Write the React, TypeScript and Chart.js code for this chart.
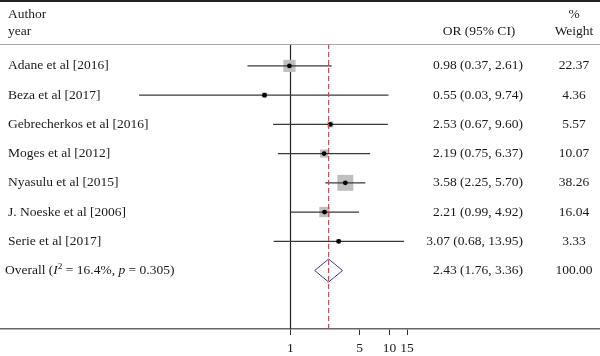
import React, { useEffect, useRef } from "react";
import { Chart, registerables } from "chart.js";

Chart.register(...registerables);

const studies = [
  "Adane et al [2016]",
  "Beza et al [2017]",
  "Gebrecherkos et al [2016]",
  "Moges et al [2012]",
  "Nyasulu et al [2015]",
  "J. Noeske et al [2006]",
  "Serie et al [2017]",
];
const orValues = [0.98, 0.55, 2.53, 2.19, 3.58, 2.21, 3.07];
const lowerCI = [0.37, 0.03, 0.67, 0.75, 2.25, 0.99, 0.68];
const upperCI = [2.61, 9.74, 9.6, 6.37, 5.7, 4.92, 13.95];
const weights = [22.37, 4.36, 5.57, 10.07, 38.26, 16.04, 3.33];

const overallOR = 2.43;
const overallLower = 1.76;
const overallUpper = 3.36;
const overallWeight = 100.0;
const overallLabelParts = [
  { t: "Overall (", italic: false, sup: false },
  { t: "I", italic: true, sup: false },
  { t: "2", italic: false, sup: true },
  { t: " = 16.4%, ", italic: false, sup: false },
  { t: "p", italic: true, sup: false },
  { t: " = 0.305)", italic: false, sup: false },
];
const xTicks = [1, 5, 10, 15];

const FONT = "Liberation Serif";
const FS = 13.5;

const fmt = (v: number) => v.toFixed(2);

export default function App() {
  const ref = useRef<HTMLCanvasElement | null>(null);

  useEffect(() => {
    if (!ref.current) return;
    document.body.style.margin = "0";
    const nStudy = studies.length;

    const ciSets = studies.map((s, i) => ({
      type: "line" as const,
      label: s,
      data: [
        { x: lowerCI[i], y: i },
        { x: upperCI[i], y: i },
      ],
      borderColor: "#3a3a3a",
      borderWidth: 1.2,
      pointRadius: 0,
      showLine: true,
      order: 1,
    }));

    const tablePlugin = {
      id: "forestTable",
      beforeDatasetsDraw(chart: any) {
        const { ctx, chartArea, scales } = chart;
        const xs = scales.x;
        ctx.save();
        ctx.strokeStyle = "#222";
        ctx.lineWidth = 1.2;
        ctx.beginPath();
        const x1 = Math.round(xs.getPixelForValue(1)) + 0.5;
        ctx.moveTo(x1, chartArea.top);
        ctx.lineTo(x1, chartArea.bottom);
        ctx.stroke();
        ctx.restore();
      },
      afterDatasetsDraw(chart: any) {
        const { ctx, chartArea, scales, width } = chart;
        const xs = scales.x;
        const ys = scales.y;
        ctx.save();
        const yo = ys.getPixelForValue(nStudy);
        const h = 11.5;
        ctx.strokeStyle = "#35359a";
        ctx.lineWidth = 1;
        ctx.beginPath();
        ctx.moveTo(xs.getPixelForValue(overallLower), yo);
        ctx.lineTo(xs.getPixelForValue(overallOR), yo - h);
        ctx.lineTo(xs.getPixelForValue(overallUpper), yo);
        ctx.lineTo(xs.getPixelForValue(overallOR), yo + h);
        ctx.closePath();
        ctx.stroke();
        const xo = xs.getPixelForValue(overallOR);
        ctx.strokeStyle = "#c0504d";
        ctx.lineWidth = 1.2;
        ctx.setLineDash([5, 3]);
        ctx.beginPath();
        ctx.moveTo(xo, chartArea.top);
        ctx.lineTo(xo, chartArea.bottom);
        ctx.stroke();
        ctx.setLineDash([]);

        ctx.fillStyle = "#222";
        ctx.fillRect(0, 0, width, 2);
        ctx.fillStyle = "#a8a8a8";
        ctx.fillRect(0, chartArea.top, width, 1);

        ctx.fillStyle = "#1a1a1a";
        ctx.font = `${FS}px "${FONT}"`;
        ctx.textBaseline = "middle";
        ctx.textAlign = "left";
        ctx.fillText("Author", 8, 14);
        ctx.fillText("year", 8, 31);
        ctx.textAlign = "center";
        ctx.fillText("OR (95% CI)", 479, 31);
        ctx.fillText("%", 574, 14);
        ctx.fillText("Weight", 574, 31);

        for (let i = 0; i < nStudy; i++) {
          const y = ys.getPixelForValue(i);
          ctx.textAlign = "left";
          ctx.fillText(studies[i], 8, y);
          ctx.textAlign = "right";
          ctx.fillText(
            `${fmt(orValues[i])} (${fmt(lowerCI[i])}, ${fmt(upperCI[i])})`,
            523,
            y
          );
          ctx.textAlign = "center";
          ctx.fillText(fmt(weights[i]), 574, y);
        }
        let xt = 5;
        ctx.textAlign = "left";
        for (const p of overallLabelParts) {
          if (p.sup) {
            ctx.font = `${FS * 0.68}px "${FONT}"`;
            ctx.fillText(p.t, xt, yo - 4);
          } else {
            ctx.font = `${p.italic ? "italic " : ""}${FS}px "${FONT}"`;
            ctx.fillText(p.t, xt, yo);
          }
          xt += ctx.measureText(p.t).width;
        }
        ctx.font = `${FS}px "${FONT}"`;
        ctx.textAlign = "right";
        ctx.fillText(
          `${fmt(overallOR)} (${fmt(overallLower)}, ${fmt(overallUpper)})`,
          523,
          yo
        );
        ctx.textAlign = "center";
        ctx.fillText(fmt(overallWeight), 574, yo);
        ctx.restore();
      },
    };

    const chart = new Chart(ref.current, {
      type: "scatter",
      data: {
        datasets: [
          {
            label: "OR",
            data: orValues.map((v, i) => ({ x: v, y: i })),
            pointStyle: "circle",
            pointRadius: 2.4,
            backgroundColor: "#000",
            borderWidth: 0,
            order: 0,
          },
          ...ciSets,
          {
            label: "Weight",
            data: orValues.map((v, i) => ({ x: v, y: i })),
            pointStyle: "rect",
            pointRadius: weights.map((w) => (2.58 * Math.sqrt(w)) / Math.SQRT2),
            backgroundColor: "#bfbfbf",
            borderWidth: 0,
            order: 2,
          },
        ] as any,
      },
      options: {
        responsive: false,
        animation: false,
        events: [],
        layout: { autoPadding: false, padding: { top: 44, bottom: 0, left: 0, right: 0 } },
        plugins: {
          legend: { display: false },
          tooltip: { enabled: false },
        },
        scales: {
          x: {
            type: "logarithmic",
            min: 0.001192,
            max: 1315,
            position: "bottom",
            afterBuildTicks: (axis: any) => {
              axis.ticks = xTicks.map((v) => ({ value: v }));
            },
            afterFit: (axis: any) => {
              axis.height = 27;
            },
            ticks: {
              autoSkip: false,
              maxRotation: 0,
              color: "#1a1a1a",
              font: { family: FONT, size: FS },
              padding: 5,
              callback: (v: any) => String(v),
            },
            grid: {
              drawOnChartArea: false,
              drawTicks: true,
              tickLength: 6,
              color: "#333",
            },
            border: { display: true, color: "#666", width: 1.5 },
          },
          y: {
            type: "linear",
            reverse: true,
            min: -0.75,
            max: 9,
            display: false,
          },
        },
      },
      plugins: [tablePlugin],
    });
    return () => chart.destroy();
  }, []);

  return (
    <div style={{ position: "absolute", left: 0, top: 0, width: 600, height: 356 }}>
      <canvas ref={ref} width={600} height={356} />
    </div>
  );
}
